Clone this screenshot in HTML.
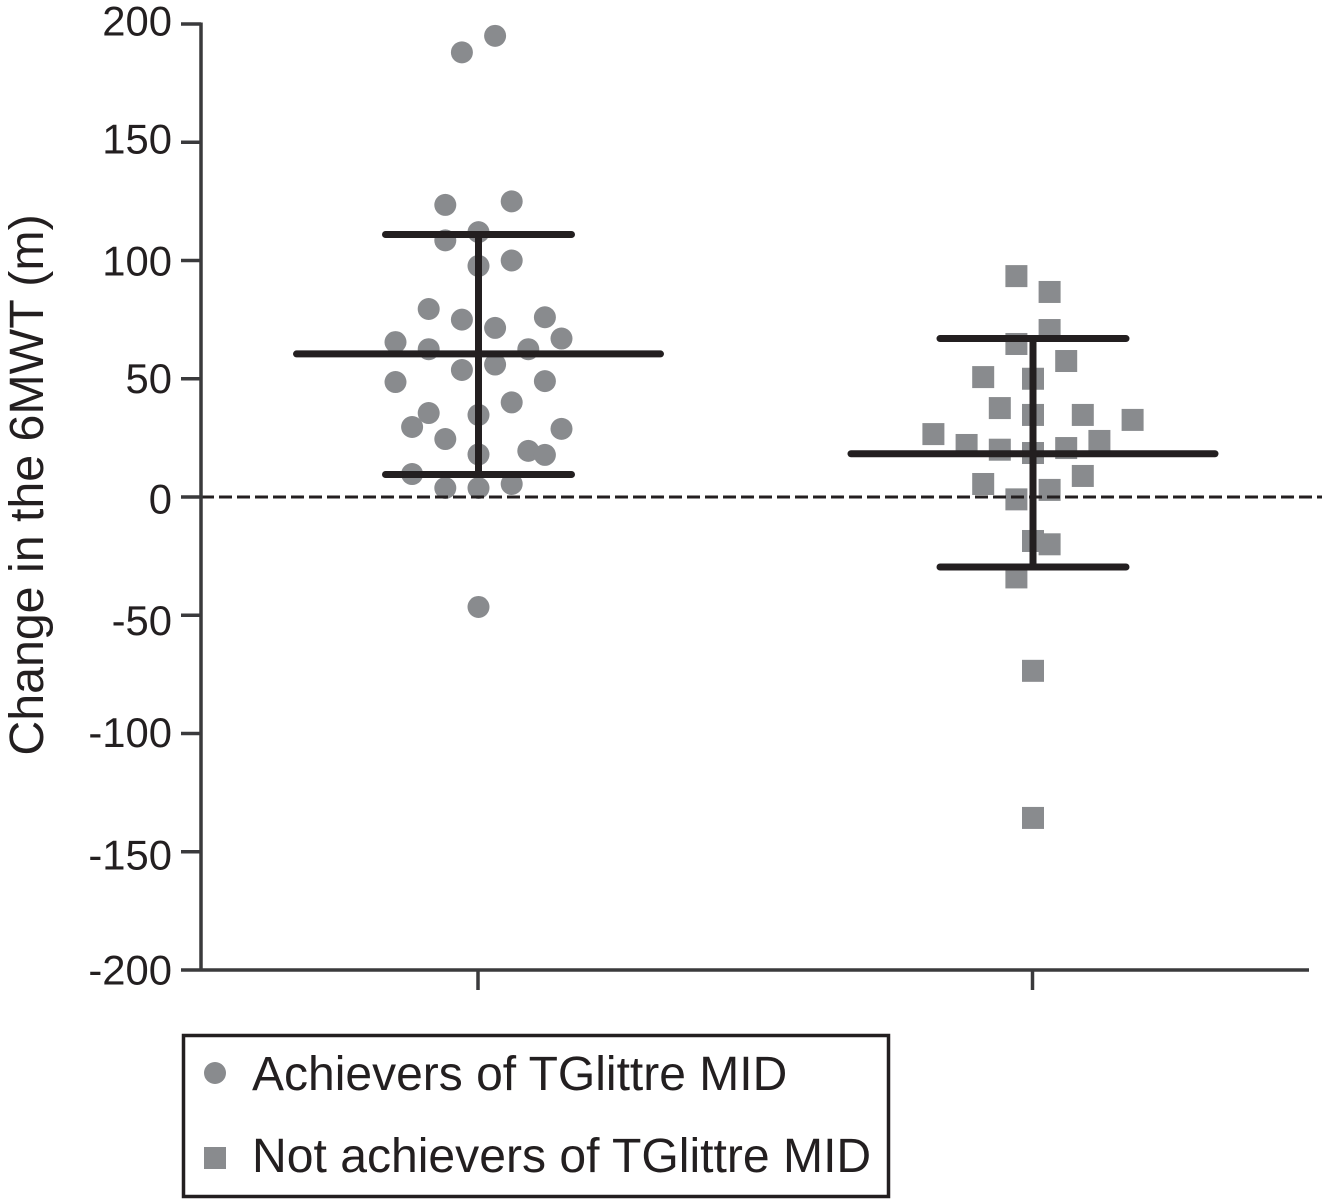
<!DOCTYPE html>
<html>
<head>
<meta charset="utf-8">
<style>
html,body{margin:0;padding:0;background:#fff;}
svg{display:block;}
text{font-family:"Liberation Sans",Arial,sans-serif;fill:#231f20;}
</style>
</head>
<body>
<svg id="chart" width="1322" height="1199" viewBox="0 0 1322 1199" xmlns="http://www.w3.org/2000/svg">
  <g id="points"></g>
  <g id="stats"></g>
  <g id="axes"></g>
  <text transform="translate(43,485) rotate(-90)" text-anchor="middle" font-size="48.3">Change in the 6MWT (m)</text>
  <g>
    <rect x="183.5" y="1035.5" width="705" height="161" fill="#fff" stroke="#231f20" stroke-width="3.5"/>
    <circle cx="215" cy="1073" r="11" fill="#898b8e"/>
    <text x="252" y="1090" font-size="48">Achievers of TGlittre MID</text>
    <rect x="204" y="1147" width="22" height="22" fill="#898b8e"/>
    <text x="252" y="1172" font-size="48.1">Not achievers of TGlittre MID</text>
  </g>
</svg>
<script>
const yTicks = [200, 150, 100, 50, 0, -50, -100, -150, -200];
const achieverValues = [195, 188, 123.5, 125, 112, 108.5, 97.7, 100, 79.5, 75, 76, 71.5, 65.5, 67, 62.5, 62.5, 53.7, 56, 48.6, 49, 40, 35.5, 34.7, 29.6, 28.8, 24.5, 18, 19.5, 17.8, 9.7, 3.8, 3.8, 5.5, -46.5];
const achieverJitter = [1, -1, -2, 2, 0, -2, 0, 2, -3, -1, 4, 1, -5, 5, -3, 3, -1, 1, -5, 4, 2, -3, 0, -4, 5, -2, 0, 3, 4, -4, -2, 0, 2, 0];
const notAchieverValues = [93.4, 86.7, 70.6, 64.7, 57.5, 50.7, 50, 37.6, 34.7, 34.7, 32.6, 26.6, 23.7, 22, 20, 20.7, 18.6, 8.9, 5.5, 3, -1, -18.6, -20, -34, -73.5, -135.7];
const notAchieverJitter = [-1, 1, 1, -1, 2, -3, 0, -2, 0, 3, 6, -6, 4, -4, -2, 2, 0, 3, -3, 1, -1, 0, 1, -1, 0, 0];
const means = [60.5, 18.3];
const upperSD = [111, 67];
const lowerSD = [9.5, -29.6];

const NS = 'http://www.w3.org/2000/svg';
const grey = '#898b8e';
const ink = '#231f20';
const axisInk = '#3a3a3c';
function yScale(v) { return 497 - v * 2.365; }
function xScale(group, jitter) { return 478.5 + group * 554.5 + jitter * 16.6; }
function labelNudge(index) {
  return [11.5, 11.3, 15, 14, 16.5, 19.5, 13.5, 17.75, 14.5][index];
}
function make(tag, attrs, parent) {
  const el = document.createElementNS(NS, tag);
  for (const k in attrs) el.setAttribute(k, attrs[k]);
  parent.appendChild(el);
  return el;
}
const pointsG = document.getElementById('points');
const statsG = document.getElementById('stats');
const axesG = document.getElementById('axes');

achieverValues.forEach(function (v, i) {
  const el = make('circle', { cx: xScale(0, achieverJitter[i]), cy: yScale(v), r: 11, fill: grey }, pointsG);
  
  
});
notAchieverValues.forEach(function (v, i) {
  const el = make('rect', { x: xScale(1, notAchieverJitter[i]) - 11, y: yScale(v) - 11, width: 22, height: 22, fill: grey }, pointsG);
  
  
});

means.forEach(function (m, i) {
  const cx = xScale(i, 0);
  const meanLine = make('line', { x1: cx - 182, x2: cx + 182, y1: yScale(m), y2: yScale(m), stroke: ink, 'stroke-width': 7, 'stroke-linecap': 'round' }, statsG);
  
  
  const stem = make('line', { x1: cx, x2: cx, y1: yScale(upperSD[i]), y2: yScale(lowerSD[i]), stroke: ink, 'stroke-width': 7 }, statsG);
  
  
  const upper = make('line', { x1: cx - 93, x2: cx + 93, y1: yScale(upperSD[i]), y2: yScale(upperSD[i]), stroke: ink, 'stroke-width': 7, 'stroke-linecap': 'round' }, statsG);
  
  
  const lower = make('line', { x1: cx - 93, x2: cx + 93, y1: yScale(lowerSD[i]), y2: yScale(lowerSD[i]), stroke: ink, 'stroke-width': 7, 'stroke-linecap': 'round' }, statsG);
  
  
});

const zeroLine = make('line', { x1: 201, x2: 1322, y1: yScale(0), y2: yScale(0), stroke: ink, 'stroke-width': 3, 'stroke-dasharray': '13 5' }, axesG);


const yAxis = make('line', { x1: 201, x2: 201, y1: yScale(200) - 1.5, y2: yScale(-200) + 1.5, stroke: axisInk, 'stroke-width': 3.5 }, axesG);


const xAxis = make('line', { x1: 201, x2: 1309, y1: yScale(-200), y2: yScale(-200), stroke: axisInk, 'stroke-width': 3.5 }, axesG);



yTicks.forEach(function (t, i) {
  const tick = make('line', { x1: 181, x2: 201, y1: yScale(t), y2: yScale(t), stroke: axisInk, 'stroke-width': 3.5 }, axesG);
  
  
  const label = make('text', { x: 172, y: yScale(t) + labelNudge(i), 'text-anchor': 'end', 'font-size': 41.8 }, axesG);
  label.textContent = String(t);
  
  
});
means.forEach(function (m, i) {
  const tick = make('line', { x1: xScale(i, 0) - 0.5, x2: xScale(i, 0) - 0.5, y1: yScale(-200), y2: 990, stroke: axisInk, 'stroke-width': 3.5 }, axesG);
  
  
});
</script>
</body>
</html>
